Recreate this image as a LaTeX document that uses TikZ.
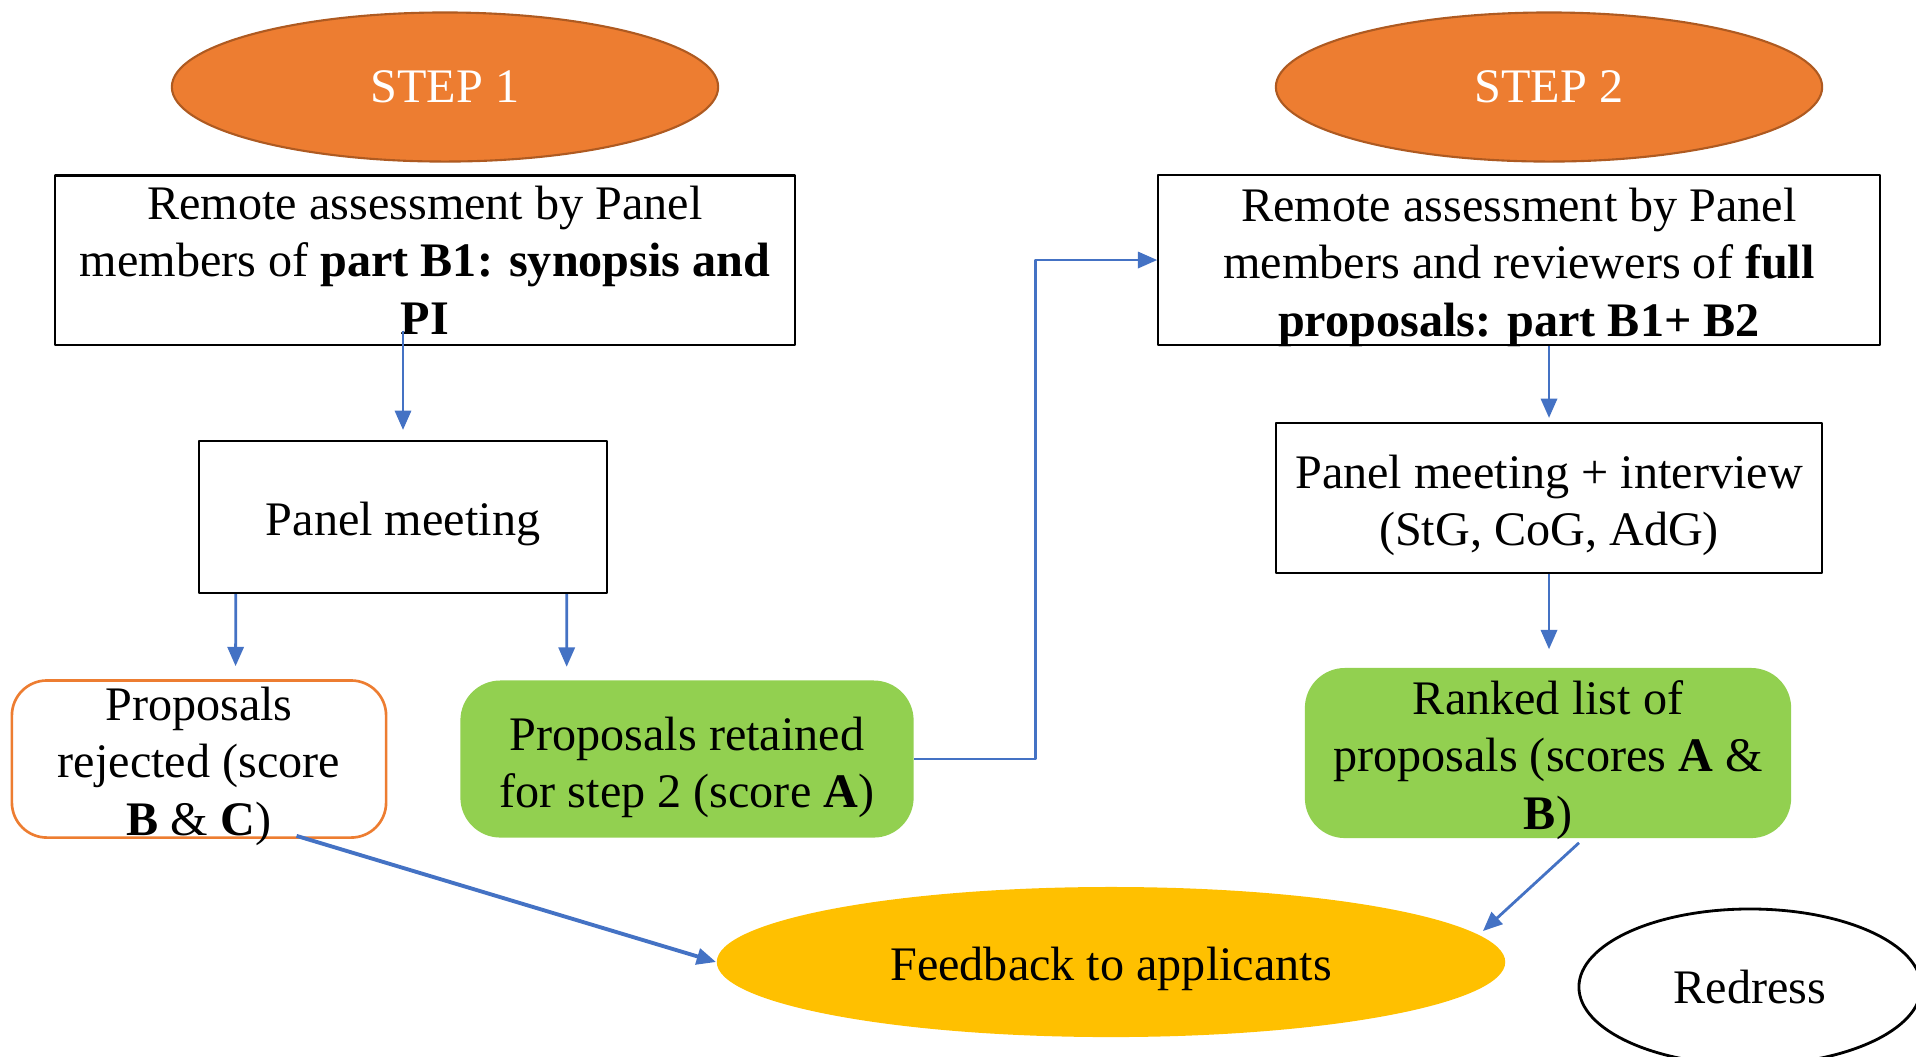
\documentclass[tikz,border=0pt]{standalone}
\usepackage{fontspec}
\setmainfont{Liberation Serif}
\usetikzlibrary{shapes.geometric,arrows.meta,calc}
\definecolor{stepfill}{HTML}{ED7D31}
\definecolor{stepline}{HTML}{AE5A21}
\definecolor{okgreen}{HTML}{92D050}
\definecolor{feedfill}{HTML}{FFC000}
\definecolor{arrblue}{HTML}{4472C4}
\newcommand\lowline{\rule{0pt}{13.6pt}}
\begin{document}
\begin{tikzpicture}[x=0.01cm,y=-0.01cm,font=\fontsize{13.7}{16.3}\selectfont,line join=round,
  stepell/.style={ellipse,draw=stepline,fill=stepfill,line width=0.6pt,text=white,minimum width=5.46cm,minimum height=1.49cm,inner sep=0pt},
  lowtext/.style={execute at begin node={\lowline}},
  plainbox/.style={draw=black,line width=0.6pt,align=center,inner sep=0pt},
  greenbox/.style={fill=okgreen,rounded corners=0.4cm,align=center,inner sep=0pt},
  rejbox/.style={draw=stepfill,fill=white,line width=0.75pt,rounded corners=0.35cm,align=center,inner sep=0pt},
  link/.style={draw=arrblue,line width=0.8pt,-{Triangle[length=5.5pt,width=4.6pt]}}]
\useasboundingbox (0,0) rectangle (1916,1056);
\node[stepell] (s1) at (445,87) {STEP 1};
\node[stepell] (s2) at (1549,87) {STEP 2};
\node[plainbox,minimum width=7.39cm,minimum height=1.69cm] (b1) at (425,260) {Remote assessment by Panel\\members of \textbf{part B1: synopsis and}\\\textbf{PI}};
\node[plainbox,inner ysep=-3pt,minimum width=7.21cm,minimum height=1.70cm] (b2) at (1519,260) {\lowline Remote assessment by Panel\\members and reviewers of \textbf{full}\\\textbf{proposals: part B1+ B2}};
\node[plainbox,lowtext,minimum width=4.08cm,minimum height=1.52cm] (pm) at (403,517) {Panel meeting};
\node[plainbox,minimum width=5.45cm,minimum height=1.50cm] (pi) at (1549,498) {\lowline Panel meeting + interview\\(StG, CoG, AdG)};
\node[rejbox,inner ysep=-4pt,minimum width=3.74cm,minimum height=1.57cm] (rej) at (199,759) {\lowline Proposals\\rejected (score\\\textbf{B} \& \textbf{C})};
\node[greenbox,minimum width=4.53cm,minimum height=1.57cm] (ret) at (687,759) {\rule{0pt}{14.2pt}Proposals retained\\for step 2 (score \textbf{A})};
\node[greenbox,inner ysep=-3pt,minimum width=4.86cm,minimum height=1.70cm] (rank) at (1548,753) {\lowline Ranked list of\\proposals (scores \textbf{A} \&\\\textbf{B})};
\node[ellipse,lowtext,fill=feedfill,minimum width=7.88cm,minimum height=1.50cm,inner sep=0pt] (fb) at (1111,962) {Feedback to applicants};
\node[ellipse,draw=black,line width=0.8pt,minimum width=3.42cm,minimum height=1.56cm,inner sep=0pt] (red) at (1750,987) {Redress};

\draw[link] ($(b1.south -| pm.north)+(0,-15)$) -- ($(pm.north)+(0,-10)$);
\draw[link] ($(pm.south west)+(38,0)$) -- ($(rej.north west)+(225,-13)$);
\draw[link] ($(pm.south west)+(369,0)$) -- ($(ret.north west)+(107,-13)$);
\draw[link] (ret.east) -- ++(121,0) |- (b2.west);
\draw[link] (b2.south -| pi.north) -- ($(pi.north)+(0,-4)$);
\draw[link] (pi.south) -- ($(pi.south |- rank.north)+(0,-18)$);
\draw[link,line width=1.1pt] ($(rej.south west)+(286,-3)$) -- (fb.west);
\draw[link] ($(rank.south)+(31,4)$) -- ($(fb.east)+(-23,-31)$);
\end{tikzpicture}
\end{document}
